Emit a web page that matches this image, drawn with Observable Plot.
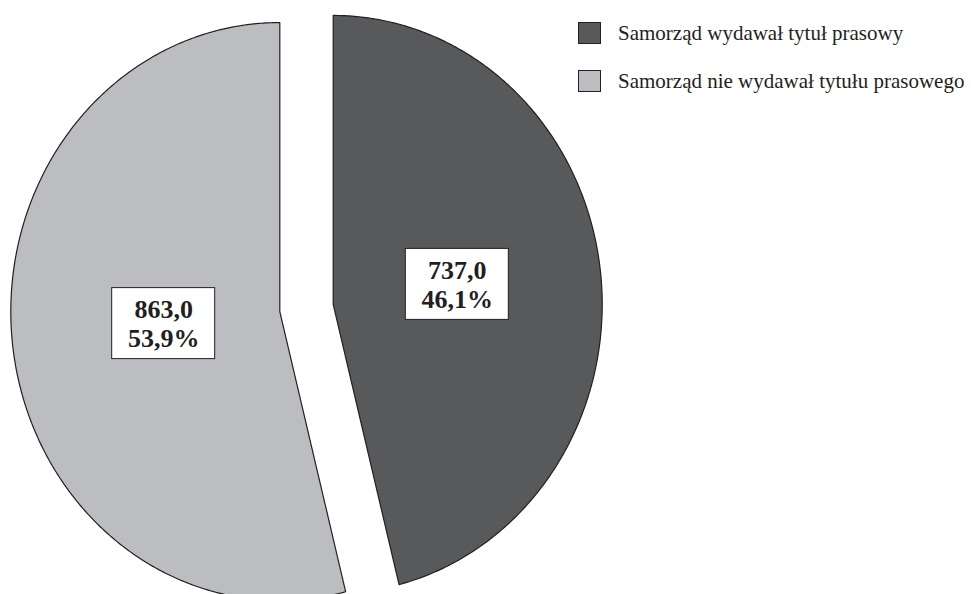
<!DOCTYPE html>
<html><head><meta charset="utf-8">
<script src="https://cdn.jsdelivr.net/npm/d3@7"></script>
<script src="https://cdn.jsdelivr.net/npm/@observablehq/plot@0.6"></script>
<style>
body{margin:0;background:#fff;}
#wrap{position:relative;width:971px;height:594px;}
#legend{position:absolute;left:578px;top:22px;font-family:"Liberation Serif","Times New Roman",serif;font-size:21px;color:#231f20;}
.item{display:flex;align-items:center;height:22px;margin-bottom:26px;white-space:nowrap;}
.sw{width:23px;height:22px;border:1px solid #231f20;margin-right:17px;box-sizing:border-box;flex:none;}
</style>
</head><body>
<div id="wrap"><div id="chart"></div><div id="legend"></div></div>
<script>
const categories = ["Samorząd wydawał tytuł prasowy", "Samorząd nie wydawał tytułu prasowego"];
const values = [737.0, 863.0];
const colors = ["#58595b", "#bcbdc1"];

const W = 971, H = 594, cx = 306, cy = 307.5, rx = 269, ry = 289;
const explode = 0.1, labelR = 0.45, labelDx = 4 / rx, labelDy = 4 / ry;
const total = d3.sum(values);
const fmtNum = v => v.toFixed(1).replace(".", ",");
const fmtPct = v => (v * 100).toFixed(1).replace(".", ",") + "%";

const pts = [];
const labels = [];
let acc = 0;
categories.forEach((cat, i) => {
  const a0 = acc / total * 2 * Math.PI;
  acc += values[i];
  const a1 = acc / total * 2 * Math.PI;
  const mid = (a0 + a1) / 2;
  const ox = explode * Math.sin(mid), oy = explode * Math.cos(mid);
  pts.push({cat, x: ox, y: oy});
  const n = Math.ceil((a1 - a0) / (Math.PI / 360));
  for (let k = 0; k <= n; k++) {
    const a = a0 + (a1 - a0) * k / n;
    pts.push({cat, x: ox + Math.sin(a), y: oy + Math.cos(a)});
  }
  labels.push({
    cat,
    x: ox + labelR * Math.sin(mid) + labelDx,
    y: oy + labelR * Math.cos(mid) + labelDy,
    text: fmtNum(values[i]) + "\n" + fmtPct(values[i] / total)
  });
});

const bw = 51.5 / rx, bh = 35.5 / ry;

const chart = Plot.plot({
  width: W, height: H,
  margin: 0,
  style: {background: "white"},
  x: {domain: [-cx / rx, (W - cx) / rx], range: [0, W], axis: null},
  y: {domain: [-(H - cy) / ry, cy / ry], range: [H, 0], axis: null},
  color: {domain: categories, range: colors},
  marks: [
    Plot.line(pts, {x: "x", y: "y", z: "cat", fill: "cat", stroke: "#231f20", strokeWidth: 1.2, curve: "linear-closed"}),
    Plot.rect(labels, {x1: d => d.x - bw, x2: d => d.x + bw, y1: d => d.y - bh, y2: d => d.y + bh, fill: "white", stroke: "#231f20", strokeWidth: 1}),
    Plot.text(labels, {x: "x", y: "y", text: "text", fontSize: 26, fontWeight: "bold", fontFamily: "Liberation Serif, Times New Roman, serif", lineHeight: 1.12, fill: "#231f20"})
  ]
});
document.getElementById("chart").appendChild(chart);

const legend = document.getElementById("legend");
categories.forEach((c, i) => {
  const it = document.createElement("div");
  it.className = "item";
  const sw = document.createElement("div");
  sw.className = "sw";
  sw.style.background = colors[i];
  const t = document.createElement("span");
  t.textContent = c;
  it.appendChild(sw); it.appendChild(t);
  legend.appendChild(it);
});
</script>
</body></html>
